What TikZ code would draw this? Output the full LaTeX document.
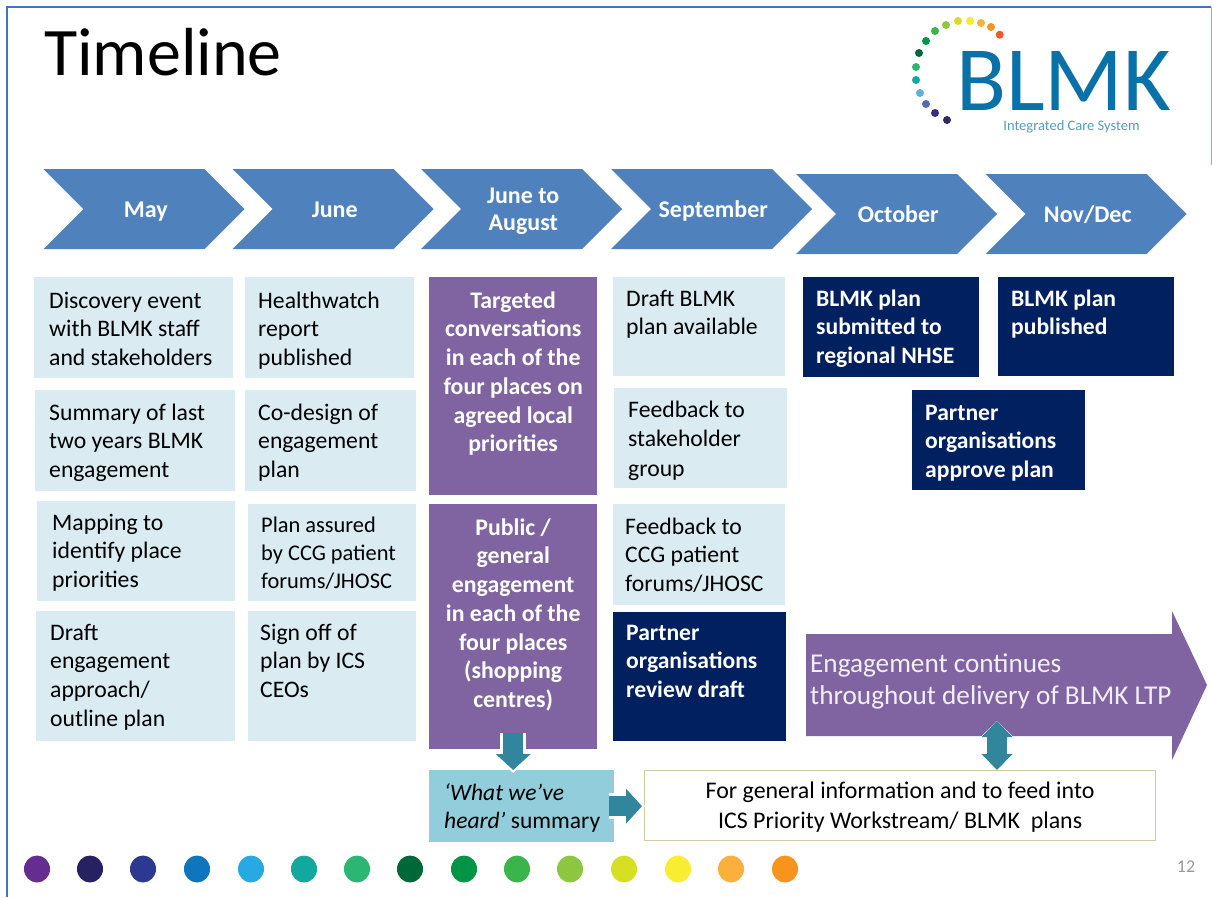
\documentclass[tikz,border=0pt]{standalone}
\usepackage{fontspec}
\setmainfont{Carlito}
\usetikzlibrary{arrows.meta,shapes.arrows,shapes.symbols,shapes.geometric,calc}
\definecolor{chev}{HTML}{4F81BD}
\definecolor{lightb}{HTML}{DAEBF2}
\definecolor{purp}{HTML}{8064A2}
\definecolor{navy}{HTML}{002060}
\definecolor{sumb}{HTML}{92CDDC}
\definecolor{teal}{HTML}{31859C}
\definecolor{frame}{HTML}{4472C4}
\definecolor{logob}{HTML}{0A70A8}
\definecolor{tan}{HTML}{CFCAA5}
\tikzset{
  x=1pt,y=-1pt,
  chevron/.style={signal,signal from=west,signal to=east,signal pointer angle=90,fill=chev,draw=none,inner sep=0pt,
    minimum width=201pt,minimum height=80pt,text=white,align=center,font=\fontsize{24}{27.5}\selectfont\bfseries},
  bx/.style={anchor=north west,inner sep=0pt},
  light/.style={bx,fill=lightb,text=black,font=\fontsize{23.7}{28.6}\selectfont},
  dark/.style={bx,fill=navy,text=white,font=\fontsize{23.6}{28.5}\selectfont\bfseries},
  pur/.style={bx,fill=purp,text=white,font=\fontsize{23.8}{28.7}\selectfont\bfseries},
  dot/.style={ellipse,inner sep=0pt,minimum width=26pt,minimum height=27pt,fill=#1},
  ldot/.style={circle,inner sep=0pt,minimum size=8pt,fill=#1},
  fatw/.style={draw=white,line width=26pt,-{Triangle[length=19pt,width=42pt]}},
  fatt/.style={draw=teal,line width=20pt,-{Triangle[length=16pt,width=34pt]}},
  fatwb/.style={draw=white,line width=26pt,{Triangle[length=19pt,width=38pt]}-{Triangle[length=19pt,width=38pt]}},
  fattb/.style={draw=teal,line width=20pt,{Triangle[length=16pt,width=30pt]}-{Triangle[length=16pt,width=30pt]}},
}
% [pad]{name}{x1}{y1}{x2}{y2}{style}{first baseline y}{text}
\newcommand{\bnode}[9][14]{%
  \pgfmathsetlengthmacro{\bh}{(#6-#4)*1pt}%
  \pgfmathsetlengthmacro{\btw}{(#5-#3-#1)*1pt}%
  \pgfmathsetlengthmacro{\bd}{(#8-#4-20)*1pt}%
  \node[#7] (#2) at (#3,#4) {\hspace*{#1pt}\parbox[c][\bh][t]{\btw}{\vspace*{\bd}\leavevmode\rule{0pt}{20pt}#9}};}
\newcommand{\ct}[1]{\rule[-4pt]{0pt}{24pt}\hspace*{3.5pt}#1}
\begin{document}
\begin{tikzpicture}
\useasboundingbox (0,0) rectangle (1212,897);
\fill[white] (0,0) rectangle (1212,897);
\draw[frame,line width=2pt] (6.5,897) -- (6.5,6.5) -- (1211,6.5);
\draw[frame!60,line width=0.8pt] (1211,6.5) -- (1211,165);
\node[anchor=base west,inner sep=0pt,font=\fontsize{68}{68}\selectfont] (title) at (44,75) {Timeline};
% logo
\foreach \n/\px/\py/\c in {a/999.7/34.7/F05A28,b/991/27/F7941E,c/981/23/FBB03B,d/970/21/F7EC2A,e/958/21/D7DF23,f/946/25/8DC63F,g/935/31/39B54A,h/926/41/009444,i/919/53/006838,j/916/67/2BB673,k/916/80/12A89D,l/920/93/5BB0DE,m/926/104/4F6DB0,n/935/113/3B2A86,o/947/120/2E2A5E}{
  \definecolor{tmpc}{HTML}{\c}
  \node[ldot=tmpc] (logo\n) at (\px,\py) {};
}
\node[anchor=base west,inner sep=0pt,text=logob,font=\fontsize{92}{92}\selectfont] (blmk) at (956,110) {BLMK};
\node[anchor=base,inner sep=0pt,text=logob!70,font=\fontsize{14.5}{15}\selectfont] (ics) at (1071.5,130) {Integrated Care System};
% chevrons
\node[chevron] (c1) at (144,209) {\ct{May}};
\node[chevron] (c2) at (333,209) {\ct{June}};
\node[chevron] (c3) at (521.5,209) {\ct{June to}\\\ct{August}};
\node[chevron] (c4) at (711.5,209) {\ct{September}};
\node[chevron] (c5) at (896.5,214) {\ct{October}};
\node[chevron] (c6) at (1086,214) {\ct{Nov/Dec}};
% May
\bnode[15]{a1}{34}{277}{233}{378}{light}{308}{Discovery event\\with BLMK staff\\and stakeholders}
\bnode[14]{a2}{35}{390}{235}{491}{light}{420}{Summary of last\\two years BLMK\\engagement}
\bnode[15]{a3}{37}{501}{235}{601}{light}{530}{Mapping to\\identify place\\priorities}
\bnode[14]{a4}{36}{611}{235}{741}{light}{640}{Draft\\engagement\\approach/\\outline plan}
% June
\bnode[13]{b1}{245}{277}{414}{378}{light}{308}{Healthwatch\\report\\published}
\bnode[13]{b2}{245}{390}{416}{491}{light}{420}{Co-design of\\engagement\\plan}
\bnode[13]{b3}{248}{504}{416}{601}{light,font=\fontsize{22.4}{28}\selectfont}{532}{Plan assured\\by CCG patient\\forums/JHOSC}
\bnode[12]{b4}{248}{611}{416}{741}{light}{640}{Sign off of\\plan by ICS\\CEOs}
% Purple
\bnode[0]{p1}{429}{277}{597}{495}{pur}{308}{\centering Targeted\\conversations\\in each of the\\four places on\\agreed local\\priorities}
\bnode[0]{p2}{429}{504}{597}{749}{pur}{535}{\centering Public /\\general\\engagement\\in each of the\\four places\\(shopping\\centres)}
% September
\bnode[13]{s1}{613}{277}{785}{376}{light}{306}{Draft BLMK\\plan available}
\bnode[14]{s2}{614}{388}{787}{488}{light,font=\fontsize{23.7}{29.5}\selectfont}{417}{Feedback to\\stakeholder\\group}
\bnode[12]{s3}{613}{504}{785}{605}{light}{534}{Feedback to\\CCG patient\\forums/JHOSC}
\bnode[13]{s4}{613}{612}{786}{741}{dark}{640}{Partner\\organisations\\review draft}
% navy
\bnode[13]{o1}{803}{277}{979}{377}{dark}{306}{BLMK plan\\submitted to\\regional NHSE}
\bnode[13]{o2}{998}{277}{1174}{376}{dark}{306}{BLMK plan\\published}
\bnode[13]{o3}{912}{390}{1085}{490}{dark}{420}{Partner\\organisations\\approve plan}
% engagement arrow
\fill[purp] (806,634) -- (1172,634) -- (1172,611) -- (1207,685) -- (1172,760) -- (1172,736) -- (806,736) -- cycle;
\coordinate (engbottom) at (997,721);
\node[anchor=west,inner sep=0pt,align=left,text=white!90!purp,font=\fontsize{27.2}{32}\selectfont] (eng) at (810,681) {Engagement continues\\throughout delivery of BLMK LTP};
% bottom boxes
\bnode[15]{sum}{429}{770}{614}{842}{bx,fill=sumb,text=black,font=\fontsize{23.5}{28.5}\selectfont}{800}{\textit{‘What we’ve}\\\textit{heard’} summary}
\bnode[0]{info}{644}{770}{1155}{840}{bx,draw=tan,fill=white,line width=1.2pt,text=black,font=\fontsize{23.9}{30}\selectfont}{798}{\centering For general information and to feed into\\ICS Priority Workstream/ BLMK\ \ plans}
% connectors
\draw[fatw] ($(p2.south)+(0,-16)$) -- ($(p2.south |- sum.north)+(0,3)$);
\draw[fatt] ($(p2.south)+(0,-16)$) -- (p2.south |- sum.north);
\draw[fatw] ($(sum.east)+(-5,0)$) -- ($(sum.east -| info.west)+(1,0)$);
\draw[fatt] ($(sum.east)+(-5,0)$) -- ($(sum.east -| info.west)+(-2,0)$);
\draw[fatwb] (engbottom) -- (engbottom |- info.north);
\draw[fattb] (engbottom) -- (engbottom |- info.north);
% footer dots
\foreach \n/\px/\c in {1/37/662D91,2/90/262262,3/143/2B3990,4/197/0F75BC,5/251/27AAE1,6/304/12A89D,7/357/2BB673,8/410/006838,9/464/009444,10/517/39B54A,11/570/8DC63F,12/624/D7DF23,13/678/F9ED32,14/731/FBB03B,15/785/F7941E}{
  \definecolor{tmpc}{HTML}{\c}
  \node[dot=tmpc] (fd\n) at (\px,869) {};
}
\node[anchor=center,inner sep=0pt,text=black!40,font=\fontsize{18}{18}\selectfont] (num) at (1186,867) {12};
\end{tikzpicture}
\end{document}
